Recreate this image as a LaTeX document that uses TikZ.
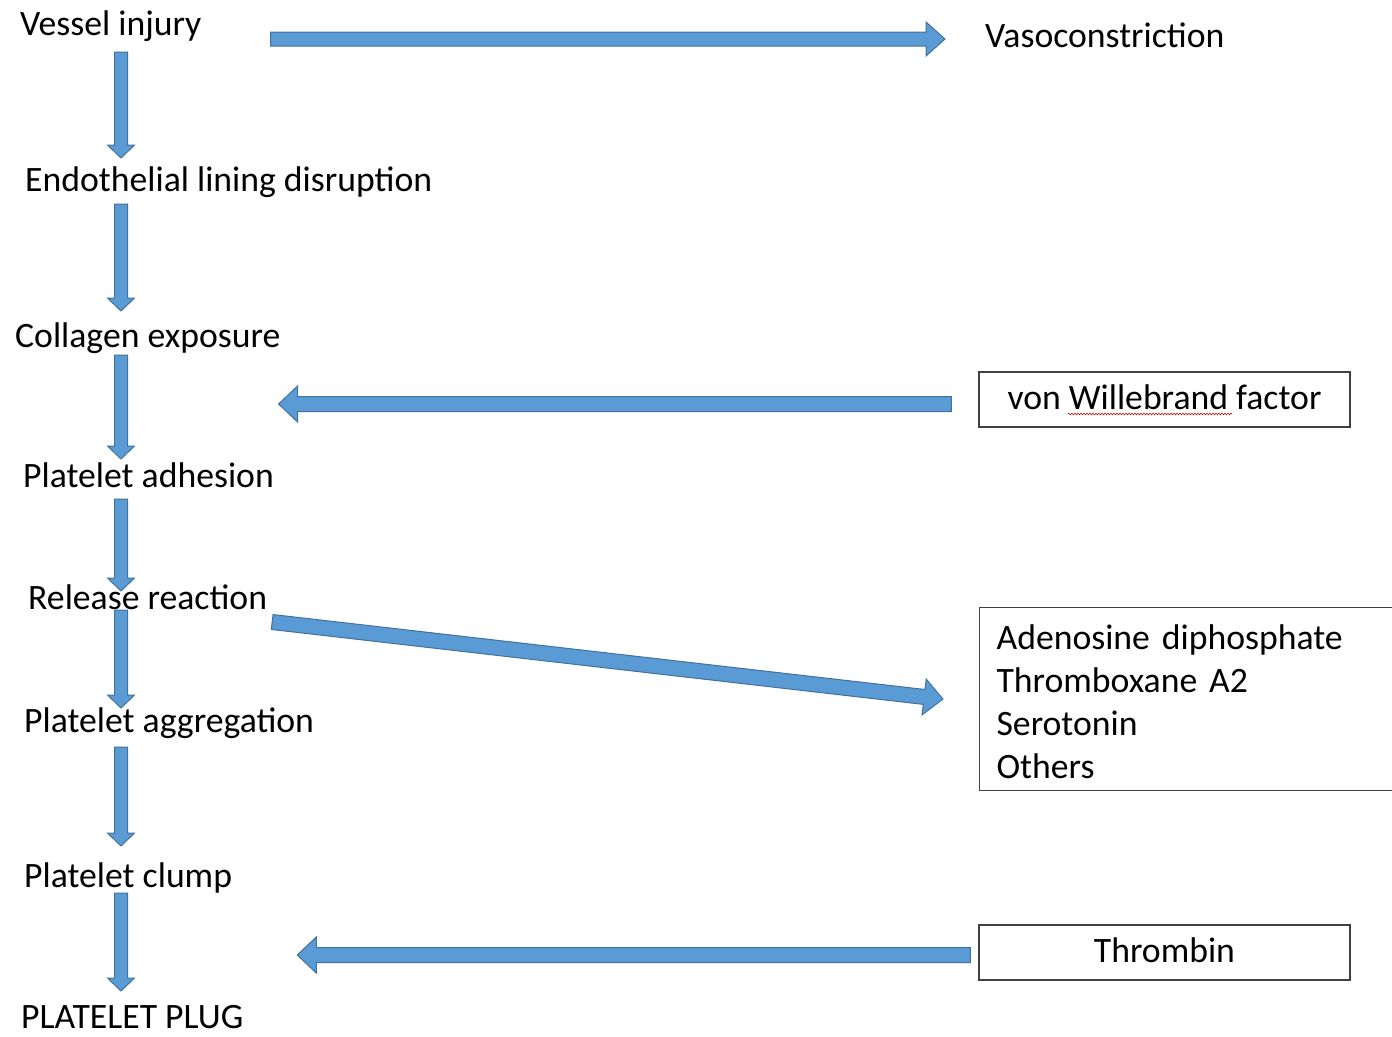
\documentclass[tikz,border=0pt]{standalone}
\usepackage{fontspec}
\setmainfont{Carlito}
\usetikzlibrary{calc,decorations.pathmorphing}

\definecolor{arrowfill}{RGB}{91,155,213}
\definecolor{arrowline}{RGB}{65,113,156}

\tikzset{
  stage/.style={anchor=base west,inner sep=0pt,font=\fontsize{35.7}{43}\selectfont},
  factorbox/.style={draw=black!75,line width=1.2pt,minimum width=371pt,minimum height=55pt,
    inner sep=0pt,text height=25pt,text depth=6pt,font=\fontsize{35.7}{43}\selectfont},
  listbox/.style={draw=black!75,line width=1.2pt,anchor=north west,minimum height=183pt,
    inner xsep=17pt,text width=400pt,align=left,font=\fontsize{35.7}{43}\selectfont},
  fatarrow/.style={fill=arrowfill,draw=arrowline,line width=1pt}
}

% tail, tip, shaft half width, head half width, head length
\newcommand{\blockarrow}[5]{%
  \path ($(#2)!#5!(#1)$) coordinate (ba-base);
  \draw[fatarrow] ($(#1)!#3!90:(#2)$) -- ($(ba-base)!#3!90:(#2)$) -- ($(ba-base)!#4!90:(#2)$)
    -- (#2) -- ($(ba-base)!#4!-90:(#2)$) -- ($(ba-base)!#3!-90:(#2)$) -- ($(#1)!#3!-90:(#2)$) -- cycle;}

\begin{document}
\begin{tikzpicture}[x=1pt,y=-1pt]
  \useasboundingbox (0,0) rectangle (1392,1036);
  \clip (0,0) rectangle (1392,1036);

  \node[stage] (vessel)   at (20,35)   {Vessel injury};
  \node[stage] (vaso)     at (985,47)  {Vasoconstriction};
  \node[stage] (endo)     at (25,191)  {Endothelial lining disruption};
  \node[stage] (collagen) at (15,347)  {Collagen exposure};
  \node[stage] (adhesion) at (23,487)  {Platelet adhesion};
  \node[stage] (release)  at (28,609)  {Release reaction};
  \node[stage] (aggreg)   at (24,732)  {Platelet aggregation};
  \node[stage] (clump)    at (24,887)  {Platelet clump};
  \node[stage] (plug)     at (21,1028) {PLATELET PLUG};

  \node[factorbox] (vwf) at (1164.5,399.5) {von Willebrand factor};
  \draw[red!80!black,line width=0.6pt,decorate,decoration={snake,amplitude=0.8pt,segment length=3pt}]
    (1068,414) -- (1232,414);
  \node[listbox] (agents) at (979,607)
    {\rule{0pt}{30pt}Adenosine diphosphate\\ Thromboxane A2\\ Serotonin\\ Others};
  \node[factorbox] (thrombin) at (1164.5,952.5) {Thrombin};

  \coordinate (trunk) at (121,0);
  \foreach \a/\b/\s/\e in {vessel/endo/17/33, endo/collagen/13/36, collagen/adhesion/8/28,
      adhesion/release/12/18, release/aggreg/1/24, aggreg/clump/15/41, clump/plug/6/37}{
    \coordinate (tail) at ($(\a.base -| trunk)+(0,\s)$);
    \coordinate (tip) at ($(\b.base -| trunk)+(0,-\e)$);
    \blockarrow{tail}{tip}{6.5pt}{13.5pt}{13pt}
  }

  \coordinate (t1) at ($(vessel.base east)+(69,4)$);
  \coordinate (h1) at ($(vaso.base west)+(-40,-8)$);
  \blockarrow{t1}{h1}{7pt}{17pt}{19pt}

  \coordinate (t2) at ($(vwf.west)+(-27,4.5)$);
  \coordinate (h2) at ($(collagen.east |- t2)+(-2,0)$);
  \blockarrow{t2}{h2}{7.5pt}{18pt}{19pt}

  \coordinate (t3) at ($(release.base east)+(5,13)$);
  \coordinate (h3) at ($(agents.west)+(-36,0)$);
  \blockarrow{t3}{h3}{7.5pt}{18pt}{19pt}

  \coordinate (t4) at ($(thrombin.west)+(-8,2.5)$);
  \coordinate (h4) at ($(clump.east |- t4)+(65,0)$);
  \blockarrow{t4}{h4}{7.5pt}{18pt}{19pt}
\end{tikzpicture}
\end{document}
